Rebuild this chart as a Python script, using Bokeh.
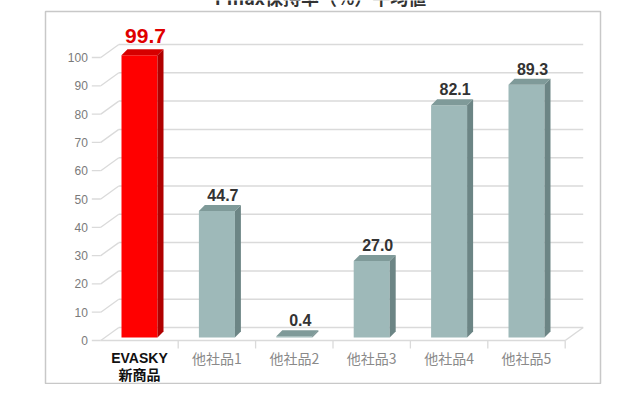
from bokeh.plotting import figure
from bokeh.models import ColumnDataSource
from bokeh.core.properties import value
from bokeh.embed import file_html
from bokeh.resources import INLINE

# ---------------- data ----------------
title_text = "Pmax保持率（%）平均値"
categories = ["EVASKY\n新商品", "他社品1", "他社品2", "他社品3", "他社品4", "他社品5"]
values = [99.7, 44.7, 0.4, 27.0, 82.1, 89.3]
y_ticks = [0, 10, 20, 30, 40, 50, 60, 70, 80, 90, 100]
y_tick_labels = [str(t) for t in y_ticks]

# ---------------- geometry ----------------
W, H = 624, 384
PX_CAT = 77.4    # px per category
PX_UNIT = 2.83   # px per value unit
X0 = 139         # canvas px of first category centre
Y0 = 340         # canvas px of value 0 on the front plane
x_start, x_end = -X0 / PX_CAT, (W - X0) / PX_CAT
y_start, y_end = (Y0 - H) / PX_UNIT, Y0 / PX_UNIT
dx = 1.0 / PX_CAT
dy = 1.0 / PX_UNIT

p = figure(width=W, height=H, x_range=(x_start, x_end), y_range=(y_start, y_end),
           output_backend="svg", toolbar_location=None, min_border=0,
           x_axis_location=None, y_axis_location=None)
p.grid.visible = False
p.outline_line_color = None
p.background_fill_color = "white"
p.border_fill_color = "white"

# outer frame
p.quad(left=[x_start + 45 * dx], right=[x_start + 600 * dx],
       top=[y_end - 11 * dy], bottom=[y_end - 383 * dy],
       fill_color=None, line_color="#C8C8C8", line_width=1.5)

# title (cut at the top like the reference)
p.text(x=[x_start + 320 * dx], y=[y_end - 9.5 * dy], text=[title_text],
       text_align="center", text_baseline="bottom",
       text_font=value("Noto Sans CJK JP"), text_font_style="bold",
       text_font_size="18px", text_color="#333333")

n = len(categories)
FL, FR = -0.5, n - 0.5
DX, DY = 18 * dx, 13 * dy
grid_col = "#DADADA"

# back wall gridlines, left wall diagonals and tick dashes
p.segment(x0=[FL + DX] * len(y_ticks), y0=[t + DY for t in y_ticks],
          x1=[FR + DX] * len(y_ticks), y1=[t + DY for t in y_ticks],
          line_color=grid_col, line_width=1.5)
p.segment(x0=[FL] * len(y_ticks), y0=y_ticks,
          x1=[FL + DX] * len(y_ticks), y1=[t + DY for t in y_ticks],
          line_color=grid_col, line_width=1.3)
p.segment(x0=[FL - 9 * dx] * len(y_ticks), y0=y_ticks,
          x1=[FL] * len(y_ticks), y1=y_ticks,
          line_color=grid_col, line_width=1.3)

# floor
p.segment(x0=[FL, FR], y0=[0, 0], x1=[FR, FR + DX], y1=[0, DY],
          line_color=grid_col, line_width=1.5)
p.segment(x0=[FL + k for k in range(1, n + 1)], y0=[0] * n,
          x1=[FL + k for k in range(1, n + 1)], y1=[-8 * dy] * n,
          line_color=grid_col, line_width=1.3)

# y tick labels
p.text(x=[FL - 13 * dx] * len(y_ticks), y=y_ticks, text=y_tick_labels,
       text_align="right", text_baseline="middle",
       text_font=value("Liberation Sans"), text_font_size="12px",
       text_color="#7A7A7A")

# bars (pseudo 3D)
B = 3 * dy
HW = 18 * dx
SX, SY = 6 * dx, 6 * dy
front_cols = ["#FF0000"] + ["#9EB9B9"] * (n - 1)
side_cols = ["#B00000"] + ["#6C8585"] * (n - 1)
top_cols = ["#D60000"] + ["#7F9A99"] * (n - 1)

xs = list(range(n))
front = ColumnDataSource(dict(left=[x - HW for x in xs], right=[x + HW for x in xs],
                              bottom=[B] * n, top=[B + v for v in values],
                              color=front_cols))
p.quad(left="left", right="right", bottom="bottom", top="top", source=front,
       fill_color="color", line_color=None)

side_xs, side_ys, top_xs, top_ys = [], [], [], []
for x, v in zip(xs, values):
    r, l = x + HW, x - HW
    side_xs.append([r, r + SX, r + SX, r])
    side_ys.append([B, B + SY, B + v + SY, B + v])
    top_xs.append([l, r, r + SX, l + SX])
    top_ys.append([B + v, B + v, B + v + SY, B + v + SY])
p.patches(xs=side_xs, ys=side_ys, fill_color=side_cols, line_color=None)
p.patches(xs=top_xs, ys=top_ys, fill_color=top_cols, line_color=None)

# value labels
lab = [f"{v:.1f}" for v in values]
p.text(x=[xs[0] + 6 * dx], y=[B + values[0] + SY + 6 * dy], text=[lab[0]],
       text_align="center", text_baseline="bottom",
       text_font=value("Liberation Sans"), text_font_style="bold",
       text_font_size="21px", text_color="#E00000")
p.text(x=[x + 6 * dx for x in xs[1:]], y=[B + v + SY + 4 * dy for v in values[1:]],
       text=lab[1:], text_align="center", text_baseline="bottom",
       text_font=value("Liberation Sans"), text_font_style="bold",
       text_font_size="16px", text_color="#333333")

# category labels
first_lines = categories[0].split("\n")
p.text(x=[xs[0]], y=[-17 * dy], text=first_lines[:1],
       text_align="center", text_baseline="middle",
       text_font=value("Liberation Sans"), text_font_style="bold",
       text_font_size="14px", text_color="#111111")
p.text(x=[xs[0]] * (len(first_lines) - 1),
       y=[-17 * dy - 16 * k * dy for k in range(1, len(first_lines))],
       text=first_lines[1:], text_align="center", text_baseline="middle",
       text_font=value("Noto Sans CJK JP"), text_font_style="bold",
       text_font_size="14px", text_color="#111111")
p.text(x=xs[1:], y=[-17 * dy] * (n - 1), text=categories[1:],
       text_align="center", text_baseline="middle",
       text_font=value("Noto Sans CJK JP"),
       text_font_size="14px", text_color="#8A8A8A")

open("out.html", "w").write(file_html(p, INLINE))
